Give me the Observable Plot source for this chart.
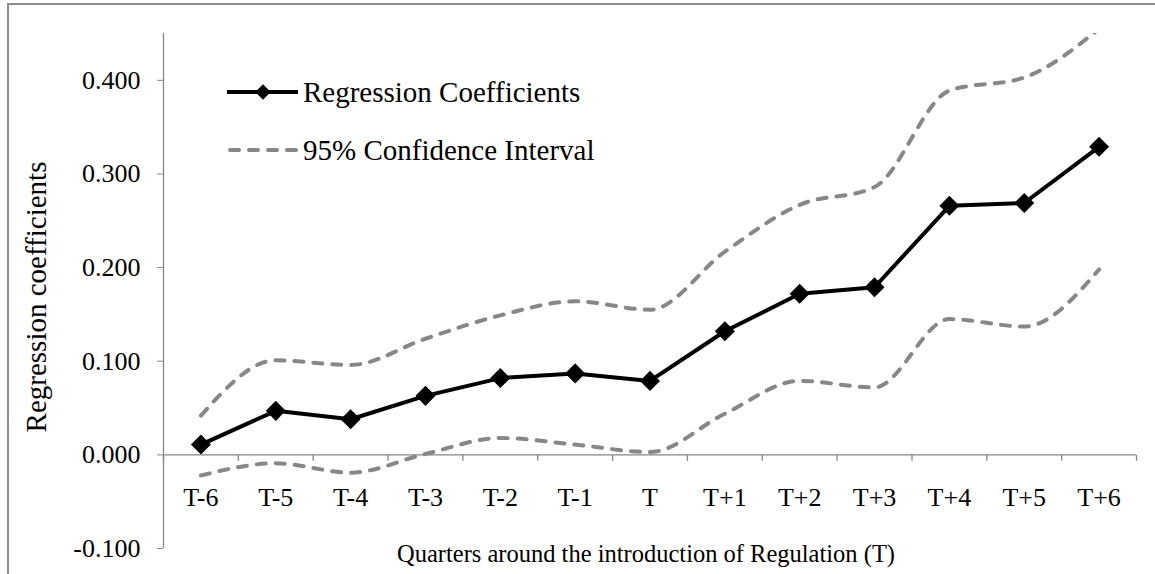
<!DOCTYPE html>
<html>
<head>
<meta charset="utf-8">
<script src="https://cdn.jsdelivr.net/npm/d3@7"></script>
<script src="https://cdn.jsdelivr.net/npm/@observablehq/plot@0.6"></script>
<style>
  html, body { margin: 0; padding: 0; background: #fff; }
  #wrap { position: relative; width: 1155px; height: 574px; overflow: hidden; background: #fff; }
  #border { position: absolute; left: 7px; top: 3px; width: 1300px; height: 800px; border: 2px solid #8c8c8c; pointer-events: none; z-index: 3; }
  #legendLines { position: absolute; left: 0; top: 0; z-index: 2; }
  .legText { position: absolute; left: 303px; font-family: "Liberation Serif"; font-size: 29px; line-height: 34px; height: 34px; color: #000; white-space: nowrap; z-index: 2; }
</style>
</head>
<body>
<div id="wrap"></div>
<script>
const quarters = ["T-6","T-5","T-4","T-3","T-2","T-1","T","T+1","T+2","T+3","T+4","T+5","T+6"];
const coefficients = [0.011,0.047,0.038,0.063,0.082,0.087,0.079,0.132,0.172,0.179,0.266,0.269,0.329];
const upperCI = [0.042,0.101,0.096,0.124,0.149,0.164,0.155,0.217,0.267,0.286,0.389,0.403,0.455];
const lowerCI = [-0.022,-0.009,-0.019,0.001,0.018,0.011,0.003,0.044,0.079,0.072,0.145,0.137,0.198];
const yTicks = [-0.1,0,0.1,0.2,0.3,0.4];
const seriesNames = ["Regression Coefficients","95% Confidence Interval"];
const xTitle = "Quarters around the introduction of Regulation (T)";
const yTitle = "Regression coefficients";

const rows = quarters.map((q,i)=>({i, q, c: coefficients[i], u: upperCI[i], l: lowerCI[i]}));
const boundaries = d3.range(-0.5, quarters.length, 1);
const axisGray = "#868686";
const ciGray = "#878787";
const FONT = "Liberation Serif";

const wrap = document.getElementById("wrap");

// a short downward tick symbol for category boundaries on the zero line
const downTick = {draw(ctx) { ctx.moveTo(0, 0); ctx.lineTo(0, 6); }};

const chart = Plot.plot({
  width: 1155,
  height: 574,
  marginLeft: 163,
  marginRight: 19,
  marginTop: 33,
  marginBottom: 26,
  style: {fontFamily: FONT, fontSize: "26px"},
  x: {type: "linear", domain: [-0.5, quarters.length - 0.5], axis: null},
  y: {type: "linear", domain: [-0.1, 0.45], axis: null},
  marks: [
    Plot.ruleX([-0.5], {stroke: axisGray, strokeWidth: 1.3}),
    Plot.axisY({ticks: yTicks, tickSize: 6, tickPadding: 17, tickFormat: d => d.toFixed(3), stroke: axisGray, fontSize: 26, fill: "#000"}),
    Plot.ruleY([0], {stroke: axisGray, strokeWidth: 1.3}),
    Plot.dot(boundaries, {x: d => d, y: () => 0, symbol: downTick, stroke: axisGray, strokeWidth: 1.3, fill: "none"}),
    Plot.text(rows, {x: "i", y: () => 0, text: "q", dy: 43, fontSize: 26, fill: "#000"}),
    Plot.lineY(rows, {x: "i", y: "u", curve: "monotone-x", stroke: ciGray, strokeWidth: 4, strokeDasharray: "9,10", strokeLinecap: "round", clip: true}),
    Plot.lineY(rows, {x: "i", y: "l", curve: "monotone-x", stroke: ciGray, strokeWidth: 4, strokeDasharray: "9,10", strokeLinecap: "round", clip: true}),
    Plot.lineY(rows, {x: "i", y: "c", stroke: "#000", strokeWidth: 4}),
    Plot.dot(rows, {x: "i", y: "c", symbol: "square", r: 8, rotate: 45, fill: "#000", stroke: "none"}),
    Plot.text([xTitle], {frameAnchor: "bottom", textAnchor: "middle", dx: -4, dy: 6, lineAnchor: "middle", fontSize: 24.5, fill: "#000"}),
    Plot.text([yTitle], {frameAnchor: "left", textAnchor: "middle", rotate: -90, dx: -127, dy: 6, lineAnchor: "middle", fontSize: 29, fill: "#000"})
  ]
});
wrap.appendChild(chart);

// legend labels
const rowsY = [92, 150];
seriesNames.forEach((name, k) => {
  const div = document.createElement("div");
  div.className = "legText";
  div.style.top = (rowsY[k] - 17) + "px";
  div.textContent = name;
  wrap.appendChild(div);
});

// legend sample lines
const ns = "http://www.w3.org/2000/svg";
const leg = document.createElementNS(ns, "svg");
leg.setAttribute("id", "legendLines");
leg.setAttribute("width", 300);
leg.setAttribute("height", 200);
seriesNames.forEach((name, k) => {
  const y = rowsY[k];
  const ln = document.createElementNS(ns, "line");
  ln.setAttribute("x1", k === 0 ? 227 : 230);
  ln.setAttribute("x2", k === 0 ? 298 : 296);
  ln.setAttribute("y1", y); ln.setAttribute("y2", y);
  ln.setAttribute("stroke", k === 0 ? "#000" : ciGray);
  ln.setAttribute("stroke-width", 4);
  if (k === 1) { ln.setAttribute("stroke-dasharray", "9,10"); ln.setAttribute("stroke-linecap", "round"); }
  leg.appendChild(ln);
  if (k === 0) {
    const d = document.createElementNS(ns, "rect");
    d.setAttribute("x", 263 - 5.5); d.setAttribute("y", y - 5.5);
    d.setAttribute("width", 11); d.setAttribute("height", 11);
    d.setAttribute("transform", `rotate(45 263 ${y})`);
    d.setAttribute("fill", "#000");
    leg.appendChild(d);
  }
});
wrap.appendChild(leg);
const border = document.createElement("div");
border.id = "border";
wrap.appendChild(border);
</script>
</body>
</html>
